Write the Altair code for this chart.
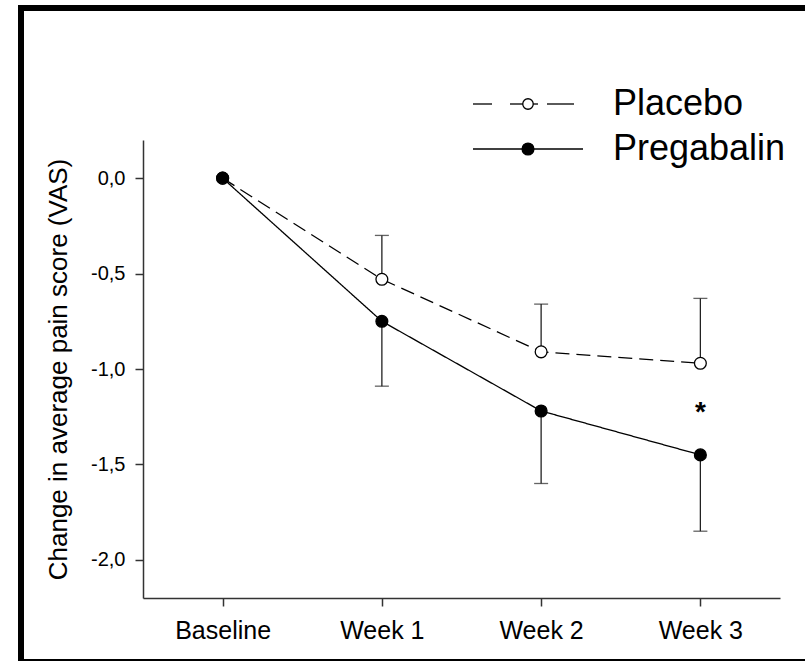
import altair as alt
import pandas as pd

weeks = ["Baseline", "Week 1", "Week 2", "Week 3"]
groups = ["Placebo", "Pregabalin"]
placebo_mean = [0.0, -0.53, -0.91, -0.97]
placebo_err = [None, -0.30, -0.66, -0.63]
pregabalin_mean = [0.0, -0.75, -1.22, -1.45]
pregabalin_err = [None, -1.09, -1.60, -1.85]
y_ticks = [0.0, -0.5, -1.0, -1.5, -2.0]
star_week = ["Week 3"]
star_y = [-1.2]

rows = []
for g, means, errs in [("Placebo", placebo_mean, placebo_err),
                       ("Pregabalin", pregabalin_mean, pregabalin_err)]:
    for i, (w, m, e) in enumerate(zip(weeks, means, errs)):
        rows.append({"week": w, "idx": i, "group": g, "mean": m, "err": e})
df = pd.DataFrame(rows)
err_df = df.dropna(subset=["err"])
star_df = pd.DataFrame({"week": star_week, "y": star_y, "t": ["*"]})
one = pd.DataFrame({"a": [0]})

FONT = "Liberation Sans, Arial, sans-serif"

x_enc = alt.X("week:N", sort=weeks,
              scale=alt.Scale(type="point", domain=weeks, padding=0.5),
              axis=alt.Axis(title=None, labelFontSize=25, labelPadding=12,
                            labelAngle=0, tickSize=8))
y_scale = alt.Scale(domain=[-2.2, 0.2], nice=False, zero=False)
y_axis = alt.Axis(title="Change in average pain score (VAS)",
                  values=y_ticks, tickSize=8, labelFontSize=20,
                  labelPadding=10, titleFontSize=26, titlePadding=19,
                  titleFontWeight="normal",
                  labelExpr="(datum.value < 0 ? '-' : '') + replace(format(abs(datum.value), '.1f'), '.', ',')")

base = alt.Chart(df)

frame = alt.Chart(one).mark_rect(
    fill=None, stroke="black", strokeWidth=6
).encode(x=alt.value(-122), x2=alt.value(700), y=alt.value(-132), y2=alt.value(522))

err_rules = alt.Chart(err_df).mark_rule(color="#222", strokeWidth=1.3).encode(
    x=x_enc, y=alt.Y("mean:Q", scale=y_scale, axis=y_axis), y2="err:Q")
err_caps = alt.Chart(err_df).mark_tick(color="#222", thickness=1.3, size=14,
                                       orient="horizontal").encode(
    x=x_enc, y=alt.Y("err:Q", scale=y_scale, axis=y_axis))

lines = base.mark_line(color="black", strokeWidth=1.3).encode(
    x=x_enc, y=alt.Y("mean:Q", scale=y_scale, axis=y_axis),
    strokeDash=alt.StrokeDash("group:N", scale=alt.Scale(domain=groups, range=[[14, 7], [1, 0]]),
                              legend=None),
    order=alt.Order("idx:Q"))

points = base.mark_point(filled=True, size=140, stroke="black", strokeWidth=1.3,
                         opacity=1, shape="circle").encode(
    x=x_enc, y=alt.Y("mean:Q", scale=y_scale, axis=y_axis),
    fill=alt.condition("datum.group === 'Placebo'", alt.value("white"), alt.value("black")),
    order=alt.Order("group:N"))

star = alt.Chart(star_df).mark_text(fontSize=28, fontWeight="bold", baseline="middle",
                                    dy=6, color="black").encode(
    x=x_enc, y=alt.Y("y:Q", scale=y_scale, axis=y_axis), text="t:N")

# ---- legend key (drawn in pixel space, relative to the plot origin) ----
OX, OY = 143, 140
leg_rows = {"Placebo": 104, "Pregabalin": 149}
key_layers = []


def seg(x1, x2, y):
    return alt.Chart(one).mark_rule(color="black", strokeWidth=1.3).encode(
        x=alt.value(x1 - OX), x2=alt.value(x2 - OX), y=alt.value(y - OY))


yp = leg_rows["Placebo"]
for a, b in [(473, 492), (510, 523), (533, 538), (547, 574)]:
    key_layers.append(seg(a, b, yp))
yg = leg_rows["Pregabalin"]
key_layers.append(seg(473, 583, yg))
key_layers.append(alt.Chart(one).mark_point(filled=True, fill="white", stroke="black",
                                            strokeWidth=1.3, size=110, opacity=1).encode(
    x=alt.value(528 - OX), y=alt.value(yp - OY)))
key_layers.append(alt.Chart(one).mark_point(filled=True, fill="black", stroke="black",
                                            strokeWidth=1.3, size=140, opacity=1).encode(
    x=alt.value(528 - OX), y=alt.value(yg - OY)))
for lab in groups:
    key_layers.append(alt.Chart(one).mark_text(fontSize=36, align="left", baseline="middle",
                                               color="black").encode(
        x=alt.value(613 - OX), y=alt.value(leg_rows[lab] - OY), text=alt.value(lab)))

chart = alt.layer(frame, err_rules, err_caps, lines, points, star, *key_layers).properties(
    width=637, height=458,
    autosize=alt.AutoSizeParams(type="none"),
    padding={"left": OX, "top": OY, "right": 25, "bottom": 63},
    background="white"
).configure_view(stroke=None).configure_axis(
    domainColor="#333", domainWidth=1.5, tickColor="#333", tickWidth=1.5,
    labelColor="black", titleColor="black", grid=False,
    labelFont=FONT, titleFont=FONT
).configure_text(font=FONT)

chart.save("out.html", embed_options={"renderer": "svg", "actions": False})
